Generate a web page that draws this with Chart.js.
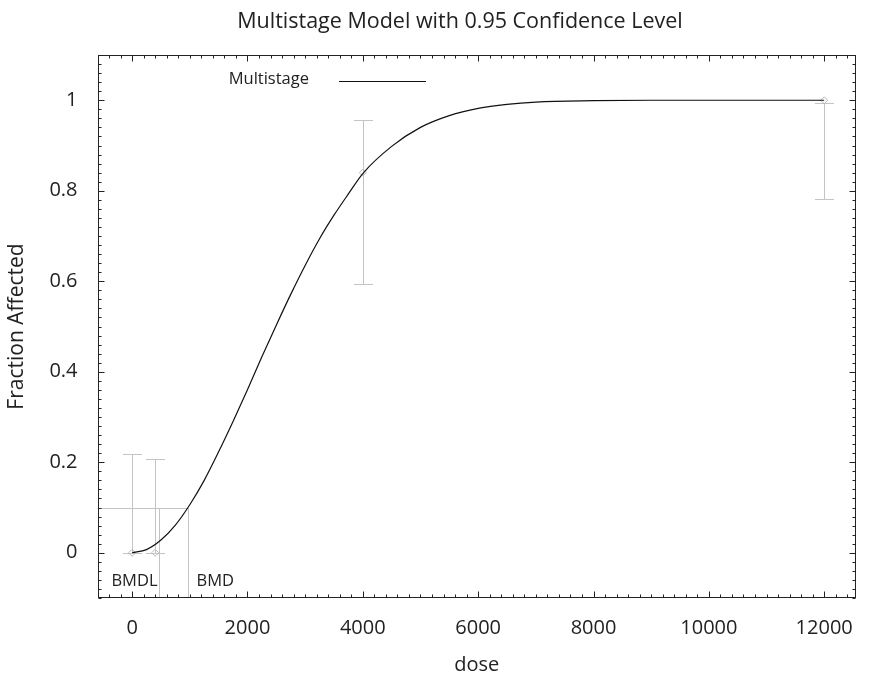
<!DOCTYPE html>
<html>
<head>
<meta charset="utf-8">
<script src="https://cdn.jsdelivr.net/npm/chart.js@4"></script>
<style>
  html, body { margin: 0; padding: 0; background: #fff; }
  #wrap { width: 871px; height: 681px; }
</style>
</head>
<body>
<div id="wrap"><canvas id="chart-area" width="871" height="681"></canvas></div>
<script>
    // observed dose groups
    var doses = [0, 400, 4000, 12000];
    var fracAffected = [0, 0, 0.84, 1.0];
    var ciLower = [0, 0, 0.594, 0.782];
    var ciUpper = [0.218, 0.207, 0.957, 0.995];

    // fitted multistage curve
    var curveDose = [0, 250, 500, 750, 1000, 1250, 1500, 1750, 2000, 2250, 2500, 2750, 3000,
        3250, 3500, 3750, 4000, 4500, 5000, 5500, 6000, 6500, 7000, 8000, 9000, 10000, 11000, 12000];
    var curveFrac = [0, 0.007, 0.028, 0.061, 0.106, 0.16, 0.223, 0.29, 0.36, 0.433, 0.503, 0.571, 0.635,
        0.694, 0.746, 0.793, 0.838, 0.898, 0.94, 0.966, 0.982, 0.991, 0.996, 0.999, 1.0, 1.0, 1.0, 1.0];

    // benchmark dose markers
    var bmr = 0.1;
    var bmd = 970;
    var bmdl = 470;

    var xTicks = [0, 2000, 4000, 6000, 8000, 10000, 12000];
    var yTicks = [0, 0.2, 0.4, 0.6, 0.8, 1];

    var FONT = "'Open Sans', 'Noto Sans', sans-serif";
    var TEXT = '#222';
    var GREY = '#c4c4c4';

    function pts(xs, ys) {
        return xs.map(function (x, i) { return { x: x, y: ys[i] }; });
    }

    var bmdPlugin = {
        id: 'bmdMarks',
        beforeDatasetsDraw: function (chart) {
            var ctx = chart.ctx, xs = chart.scales.x, ys = chart.scales.y;
            var area = chart.chartArea;
            ctx.save();
            ctx.strokeStyle = GREY;
            ctx.lineWidth = 1;

            // confidence interval bars
            doses.forEach(function (d, i) {
                var px = Math.round(xs.getPixelForValue(d)) + 0.5;
                var lo = Math.round(ys.getPixelForValue(ciLower[i])) + 0.5;
                var hi = Math.round(ys.getPixelForValue(ciUpper[i])) + 0.5;
                ctx.beginPath();
                ctx.moveTo(px, lo); ctx.lineTo(px, hi);
                ctx.moveTo(px - 9.5, lo); ctx.lineTo(px + 9.5, lo);
                ctx.moveTo(px - 9.5, hi); ctx.lineTo(px + 9.5, hi);
                ctx.stroke();
            });

            // BMR level and BMD / BMDL drop lines
            var yb = Math.round(ys.getPixelForValue(bmr)) + 0.5;
            var xb = Math.round(xs.getPixelForValue(bmd)) + 0.5;
            var xl = Math.round(xs.getPixelForValue(bmdl)) + 0.5;
            ctx.beginPath();
            ctx.moveTo(area.left, yb); ctx.lineTo(xb, yb);
            ctx.moveTo(xb, yb); ctx.lineTo(xb, area.bottom);
            ctx.moveTo(xl, yb); ctx.lineTo(xl, area.bottom);
            ctx.stroke();

            ctx.fillStyle = TEXT;
            ctx.font = '16.5px ' + FONT;
            ctx.textBaseline = 'middle';
            ctx.textAlign = 'right';
            ctx.fillText('BMDL', xl - 2, area.bottom - 17);
            ctx.textAlign = 'left';
            ctx.fillText('BMD', xb + 8, area.bottom - 17);
            ctx.restore();
        },
        afterDraw: function (chart) {
            var ctx = chart.ctx, xs = chart.scales.x, ys = chart.scales.y;
            var a = chart.chartArea;
            var L = Math.round(a.left) + 0.5, R = Math.round(a.right) - 0.5;
            var T = Math.round(a.top) + 0.5, B = Math.round(a.bottom) - 0.5;
            ctx.save();
            ctx.strokeStyle = '#222';
            ctx.lineWidth = 1;
            ctx.strokeRect(L, T, R - L, B - T);

            ctx.beginPath();
            var v, p, len;
            // x ticks, bottom and top
            for (v = Math.ceil(xs.min / 200) * 200; v <= xs.max; v += 200) {
                p = Math.round(xs.getPixelForValue(v)) + 0.5;
                len = (v % 2000 === 0) ? 6 : 3;
                ctx.moveTo(p, B); ctx.lineTo(p, B - len);
                ctx.moveTo(p, T); ctx.lineTo(p, T + len);
            }
            // y ticks, left and right
            for (var k = Math.ceil(ys.min / 0.02); k * 0.02 <= ys.max + 1e-9; k++) {
                p = Math.round(ys.getPixelForValue(k * 0.02)) + 0.5;
                len = (k % 10 === 0) ? 6 : 3;
                ctx.moveTo(L, p); ctx.lineTo(L + len, p);
                ctx.moveTo(R, p); ctx.lineTo(R - len, p);
            }
            ctx.stroke();

            // legend
            ctx.fillStyle = TEXT;
            ctx.font = '16.5px ' + FONT;
            ctx.textAlign = 'right';
            ctx.textBaseline = 'middle';
            ctx.fillText('Multistage', 309, 79);
            ctx.strokeStyle = '#111';
            ctx.beginPath();
            ctx.moveTo(339, 81.5); ctx.lineTo(426, 81.5);
            ctx.stroke();

            // title
            ctx.font = '21.5px ' + FONT;
            ctx.textAlign = 'center';
            ctx.fillText('Multistage Model with 0.95 Confidence Level', 460, 22);
            ctx.restore();
        }
    };

    var ctx = document.getElementById('chart-area').getContext('2d');
    window.msChart = new Chart(ctx, {
        type: 'scatter',
        data: {
            datasets: [
                {
                    label: 'Multistage',
                    data: pts(curveDose, curveFrac),
                    showLine: true,
                    borderColor: '#111',
                    borderWidth: 1.2,
                    pointRadius: 0,
                    cubicInterpolationMode: 'monotone'
                },
                {
                    label: 'Observed',
                    data: pts(doses, fracAffected),
                    showLine: false,
                    pointStyle: 'rectRot',
                    pointRadius: 3.5,
                    borderColor: '#b8b8b8',
                    backgroundColor: 'rgba(255,255,255,0)',
                    borderWidth: 1
                }
            ]
        },
        options: {
            responsive: false,
            animation: false,
            layout: { padding: { top: 55, right: 3, left: 0, bottom: 0 } },
            plugins: {
                legend: { display: false },
                title: { display: false },
                tooltip: { enabled: false }
            },
            scales: {
                x: {
                    type: 'linear',
                    min: -600,
                    max: 12550,
                    grid: { display: false, drawTicks: false },
                    border: { display: false },
                    afterBuildTicks: function (s) { s.ticks = xTicks.map(function (v) { return { value: v }; }); },
                    afterFit: function (s) { s.height = 83; },
                    ticks: {
                        padding: 18,
                        color: TEXT,
                        font: { family: FONT, size: 20 },
                        maxRotation: 0,
                        callback: function (v) { return String(v); }
                    },
                    title: {
                        display: true,
                        text: 'dose',
                        color: TEXT,
                        font: { family: FONT, size: 20 },
                        padding: { top: 0, bottom: 4 }
                    }
                },
                y: {
                    type: 'linear',
                    min: -0.1,
                    max: 1.1,
                    grid: { display: false, drawTicks: false },
                    border: { display: false },
                    afterBuildTicks: function (s) { s.ticks = yTicks.map(function (v) { return { value: v }; }); },
                    afterFit: function (s) { s.width = 97.5; },
                    ticks: {
                        padding: 20,
                        color: TEXT,
                        font: { family: FONT, size: 20 },
                        callback: function (v) { return String(v); }
                    },
                    title: {
                        display: true,
                        text: 'Fraction Affected',
                        color: TEXT,
                        font: { family: FONT, size: 21 },
                        padding: { top: 4, bottom: 0 }
                    }
                }
            }
        },
        plugins: [bmdPlugin]
    });
</script>
</body>
</html>
